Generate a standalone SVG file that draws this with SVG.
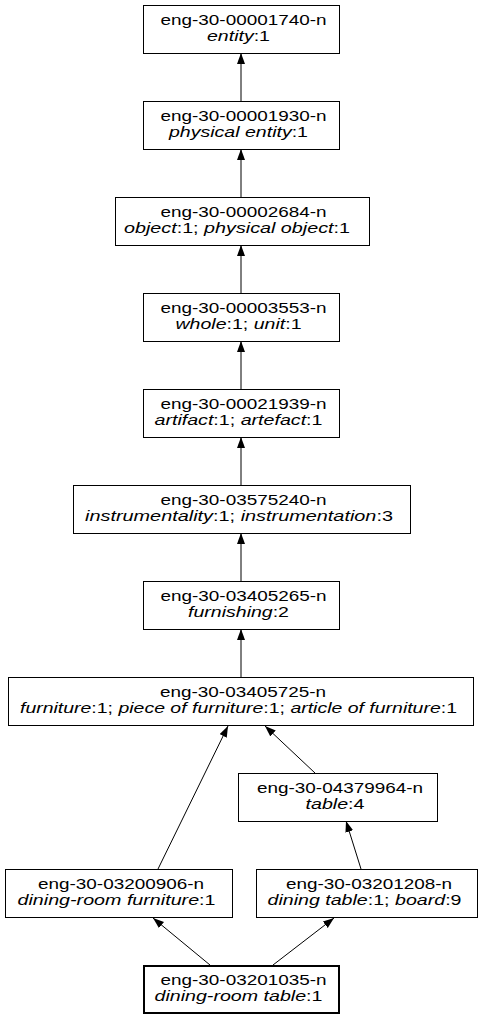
<svg xmlns="http://www.w3.org/2000/svg" width="485" height="1019" viewBox="0 0 485 1019">
<style>
rect{fill:#fff;stroke:#000;stroke-width:1}
text{font-family:"Liberation Sans",Arial,sans-serif;font-size:15px;fill:#000;text-anchor:middle}
.i{font-style:italic}
.e{stroke:#000;stroke-width:1;fill:none;marker-end:url(#a)}
</style>
<defs>
<marker id="a" markerUnits="userSpaceOnUse" markerWidth="12" markerHeight="9" refX="11" refY="4" orient="auto">
<path d="M0,0 L11,4 L0,8 z" fill="#000"/>
</marker>
</defs>
<g id="edges">
<line class="e" x1="241" y1="101" x2="241" y2="53"/>
<line class="e" x1="241" y1="197" x2="241" y2="149"/>
<line class="e" x1="241" y1="293" x2="241" y2="245"/>
<line class="e" x1="241" y1="389" x2="241" y2="341"/>
<line class="e" x1="241" y1="485" x2="241" y2="437"/>
<line class="e" x1="241" y1="581" x2="241" y2="533"/>
<line class="e" x1="241" y1="677" x2="241" y2="629"/>
<line class="e" x1="158" y1="869" x2="228" y2="726"/>
<line class="e" x1="315" y1="773" x2="265" y2="726"/>
<line class="e" x1="361" y1="869" x2="346" y2="821"/>
<line class="e" x1="210" y1="965" x2="153" y2="918"/>
<line class="e" x1="273" y1="965" x2="334" y2="918"/>
</g>
<g id="n1"><rect x="143.5" y="5.5" width="196" height="48"/><text x="243.5" y="25" textLength="166" lengthAdjust="spacingAndGlyphs">eng-30-00001740-n</text><text x="238.5" y="41" textLength="63" lengthAdjust="spacingAndGlyphs"><tspan class="i">entity</tspan>:1</text></g>
<g id="n2"><rect x="143.5" y="101.5" width="196" height="48"/><text x="243.5" y="121" textLength="166" lengthAdjust="spacingAndGlyphs">eng-30-00001930-n</text><text x="238.5" y="137" textLength="139" lengthAdjust="spacingAndGlyphs"><tspan class="i">physical entity</tspan>:1</text></g>
<g id="n3"><rect x="115.5" y="197.5" width="254" height="48"/><text x="243.5" y="217" textLength="166" lengthAdjust="spacingAndGlyphs">eng-30-00002684-n</text><text x="237" y="233" textLength="226" lengthAdjust="spacingAndGlyphs"><tspan class="i">object</tspan>:1; <tspan class="i">physical object</tspan>:1</text></g>
<g id="n4"><rect x="143.5" y="293.5" width="196" height="48"/><text x="243.5" y="313" textLength="166" lengthAdjust="spacingAndGlyphs">eng-30-00003553-n</text><text x="238.5" y="329" textLength="126" lengthAdjust="spacingAndGlyphs"><tspan class="i">whole</tspan>:1; <tspan class="i">unit</tspan>:1</text></g>
<g id="n5"><rect x="143.5" y="389.5" width="196" height="48"/><text x="243.5" y="409" textLength="166" lengthAdjust="spacingAndGlyphs">eng-30-00021939-n</text><text x="238.5" y="425" textLength="168" lengthAdjust="spacingAndGlyphs"><tspan class="i">artifact</tspan>:1; <tspan class="i">artefact</tspan>:1</text></g>
<g id="n6"><rect x="73.5" y="485.5" width="337" height="48"/><text x="243.5" y="505" textLength="166" lengthAdjust="spacingAndGlyphs">eng-30-03575240-n</text><text x="239" y="521" textLength="308" lengthAdjust="spacingAndGlyphs"><tspan class="i">instrumentality</tspan>:1; <tspan class="i">instrumentation</tspan>:3</text></g>
<g id="n7"><rect x="143.5" y="581.5" width="196" height="48"/><text x="243.5" y="601" textLength="166" lengthAdjust="spacingAndGlyphs">eng-30-03405265-n</text><text x="238.5" y="617" textLength="101" lengthAdjust="spacingAndGlyphs"><tspan class="i">furnishing</tspan>:2</text></g>
<g id="n8"><rect x="8.5" y="677.5" width="465" height="48"/><text x="243" y="697" textLength="166" lengthAdjust="spacingAndGlyphs">eng-30-03405725-n</text><text x="238.5" y="713" textLength="437" lengthAdjust="spacingAndGlyphs"><tspan class="i">furniture</tspan>:1; <tspan class="i">piece of furniture</tspan>:1; <tspan class="i">article of furniture</tspan>:1</text></g>
<g id="n9"><rect x="238.5" y="773.5" width="199" height="48"/><text x="340" y="793" textLength="166" lengthAdjust="spacingAndGlyphs">eng-30-04379964-n</text><text x="335" y="809" textLength="59" lengthAdjust="spacingAndGlyphs"><tspan class="i">table</tspan>:4</text></g>
<g id="n10"><rect x="5.5" y="869.5" width="227" height="48"/><text x="121" y="889" textLength="166" lengthAdjust="spacingAndGlyphs">eng-30-03200906-n</text><text x="116.5" y="905" textLength="198" lengthAdjust="spacingAndGlyphs"><tspan class="i">dining-room furniture</tspan>:1</text></g>
<g id="n11"><rect x="256.5" y="869.5" width="221" height="48"/><text x="369" y="889" textLength="166" lengthAdjust="spacingAndGlyphs">eng-30-03201208-n</text><text x="364.5" y="905" textLength="194" lengthAdjust="spacingAndGlyphs"><tspan class="i">dining table</tspan>:1; <tspan class="i">board</tspan>:9</text></g>
<g id="n12"><rect x="144" y="966" width="195" height="47" style="stroke-width:2"/><text x="243.5" y="985" textLength="166" lengthAdjust="spacingAndGlyphs">eng-30-03201035-n</text><text x="238.5" y="1001" textLength="168" lengthAdjust="spacingAndGlyphs"><tspan class="i">dining-room table</tspan>:1</text></g>
</svg>
